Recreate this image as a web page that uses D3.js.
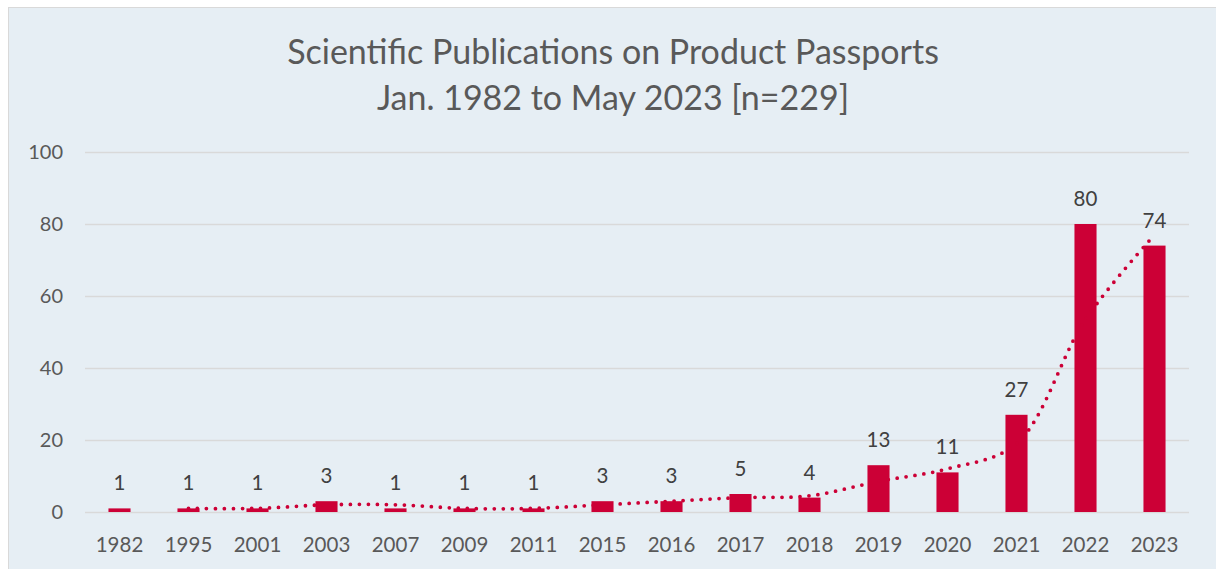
<!DOCTYPE html>
<html>
<head>
<meta charset="utf-8">
<script src="https://cdn.jsdelivr.net/npm/d3@7"></script>
<style>
  body { margin: 0; background: #ffffff; }
  svg { display: block; font-family: Lato, "Open Sans", sans-serif; }
</style>
</head>
<body>
<div id="chart"></div>
<script>
const years = ['1982', '1995', '2001', '2003', '2007', '2009', '2011', '2015', '2016', '2017', '2018', '2019', '2020', '2021', '2022', '2023'];
const publications = [1, 1, 1, 3, 1, 1, 1, 3, 3, 5, 4, 13, 11, 27, 80, 74];
// dotted trendline (2-period moving average)
const trend = [null, 1, 1, 2, 2, 1, 1, 2, 3, 4, 4.5, 8.5, 12, 19, 53.5, 77];
const yTicks = [0, 20, 40, 60, 80, 100];
const titleLines = ['Scientific Publications on Product Passports', 'Jan. 1982 to May 2023 [n=229]'];

const width = 1216, height = 569;
const margin = { left: 85, top: 152, right: 27, bottom: 57 };
const barColor = '#cc0036';
const textColor = '#595959';

const svg = d3.select('#chart').append('svg')
    .attr('width', width)
    .attr('height', height);

svg.append('rect')
    .attr('x', 8.5).attr('y', 7.5)
    .attr('width', width + 10).attr('height', height + 10)
    .attr('fill', '#e6eef4')
    .attr('stroke', '#d9d9d9');

const x = d3.scaleBand()
    .domain(years)
    .range([margin.left, width - margin.right])
    .paddingInner(0.68)
    .paddingOuter(0.34);

const y = d3.scaleLinear()
    .domain([0, 100])
    .range([height - margin.bottom, margin.top]);

// title
svg.append('g').selectAll('text').data(titleLines)
    .enter().append('text')
    .attr('x', 613)
    .attr('y', (d, i) => 64 + i * 46)
    .attr('text-anchor', 'middle')
    .attr('font-size', 34)
    .attr('fill', textColor)
    .text(d => d);

// gridlines + y labels
const yAxis = d3.axisLeft(y).tickValues(yTicks)
    .tickSize(-(width - margin.left - margin.right))
    .tickPadding(22);
const gy = svg.append('g')
    .attr('transform', `translate(${margin.left},0)`)
    .call(yAxis);
gy.select('.domain').remove();
gy.selectAll('.tick line').attr('stroke', '#d9d9d9').attr('stroke-width', 1.5);
gy.selectAll('.tick text').attr('fill', textColor).attr('font-size', 20)
    .attr('font-family', 'Lato, "Open Sans", sans-serif');

// x labels
const xAxis = d3.axisBottom(x).tickSize(0).tickPadding(25);
const gx = svg.append('g')
    .attr('transform', `translate(0,${height - margin.bottom})`)
    .call(xAxis);
gx.select('.domain').remove();
gx.selectAll('.tick text').attr('fill', textColor).attr('font-size', 20.5)
    .attr('font-family', 'Lato, "Open Sans", sans-serif');

// bars
svg.append('g')
    .selectAll('rect').data(publications)
    .enter().append('rect')
    .attr('x', (d, i) => x(years[i]))
    .attr('y', d => y(d))
    .attr('width', x.bandwidth())
    .attr('height', d => y(0) - y(d))
    .attr('fill', barColor);

// value labels
svg.append('g')
    .selectAll('text').data(publications)
    .enter().append('text')
    .attr('x', (d, i) => x(years[i]) + x.bandwidth() / 2)
    .attr('y', d => y(d) - 18)
    .attr('text-anchor', 'middle')
    .attr('font-size', 20.5)
    .attr('fill', '#404040')
    .text(d => d);

// trendline
const line = d3.line()
    .defined(d => d !== null)
    .x((d, i) => x(years[i]) + x.bandwidth() / 2)
    .y(d => y(d))
    .curve(d3.curveCatmullRom.alpha(0.5));

svg.append('path')
    .datum(trend)
    .attr('d', line)
    .attr('fill', 'none')
    .attr('stroke', barColor)
    .attr('stroke-width', 3.8)
    .attr('stroke-linecap', 'round')
    .attr('stroke-dasharray', '0 9');
</script>
</body>
</html>
